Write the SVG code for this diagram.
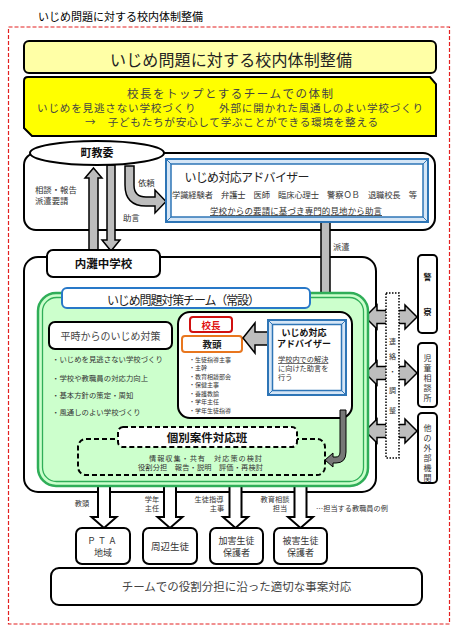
<svg xmlns="http://www.w3.org/2000/svg" width="463" height="641" viewBox="0 0 463 641">
<style>
text{font-family:"Noto Sans CJK JP","Noto Sans CJK SC",sans-serif;fill:#333;}
.c{text-anchor:middle}
.b{font-weight:bold;fill:#111}
.box{fill:#fff;stroke:#000;stroke-width:2}
.garrow{fill:#bdbdbd;stroke:#000;stroke-width:1.5;stroke-linejoin:miter}
.warrow{fill:#fff;stroke:#000;stroke-width:2;stroke-linejoin:miter}
.blue{stroke:#2e75b6;stroke-width:2}
.dash{stroke:#000;stroke-width:2;stroke-dasharray:5,3}
.s75{font-size:7.2px}
.s85{font-size:8.4px}
.vt{font-size:8px;text-anchor:middle}
</style>
<rect width="463" height="641" fill="#fff"/>
<text x="38" y="21" font-size="11" style="fill:#000">いじめ問題に対する校内体制整備</text>
<rect x="8.5" y="27" width="441" height="597" fill="none" stroke="#e32020" stroke-width="1.2" stroke-dasharray="4,2"/>

<g id="title">
<rect x="24" y="41" width="412" height="32" rx="5" fill="#ffffa6" stroke="#000" stroke-width="2"/>
<text x="231" y="66" class="c" font-size="16" textLength="242" style="fill:#222">いじめ問題に対する校内体制整備</text>
</g>
<g id="policy">
<path d="M28,77 H430 L436,84 V136 H32 L24,128 V81 Q24,77 28,77 Z" fill="#ffff00" stroke="#000" stroke-width="2"/>
<text x="230" y="98" class="c" font-size="11.5" textLength="206" style="fill:#444">校長をトップとするチームでの体制</text>
<text x="230" y="112" class="c" font-size="10.6" textLength="386" style="fill:#444">いじめを見逃さない学校づくり　　外部に開かれた風通しのよい学校づくり</text>
<text x="231.5" y="125.5" class="c" font-size="10.6" textLength="293" style="fill:#444">→　子どもたちが安心して学ぶことができる環境を整える</text>
</g>

<g id="board-frame">
<rect x="24" y="153" width="411" height="77" rx="12" class="box"/>
</g>
<g id="school-frame">
<rect x="24" y="257" width="352" height="235" rx="14" class="box"/>
</g>

<g id="connectors">
<polygon class="garrow" points="93.5,168 102,178 98,178 98,250 89,250 89,178 85,178"/>
<polygon class="garrow" points="107,165 115,165 115,240 120,240 111,251 102,240 107,240"/>
<path class="garrow" d="M125,166 H134 V185 Q134,197 146,197 H155 V190 L166,201.5 L155,213 V206 H146 Q125,206 125,185 Z"/>
<polygon class="garrow" points="321,222 330,222 330,298 337,298 325.5,312 314,298 321,298"/>
<polygon class="garrow" points="365,317 377,305 377,310.5 405,310.5 405,305 417,317 405,329 405,323.5 377,323.5 377,329"/>
<polygon class="garrow" points="365,373 377,361 377,366.5 405,366.5 405,361 417,373 405,385 405,379.5 377,379.5 377,385"/>
<polygon class="garrow" points="365,431 377,419 377,424.5 405,424.5 405,419 417,431 405,443 405,437.5 377,437.5 377,443"/>
<polygon class="warrow" points="98,475 110,475 110,517 116.5,517 104,528 91.5,517 98,517"/>
<polygon class="warrow" points="164,475 176,475 176,517 182.5,517 170,528 157.5,517 164,517"/>
<polygon class="warrow" points="229.5,475 241.5,475 241.5,517 248,517 235.5,528 223,517 229.5,517"/>
<polygon class="warrow" points="294.5,475 306.5,475 306.5,517 313,517 300.5,528 288,517 294.5,517"/>
<text x="35" y="193" class="s85">相談・報告</text>
<text x="35" y="204" class="s85">派遣要請</text>
<text x="138" y="185.5" class="s85">依頼</text>
<text x="123" y="221" class="s85">助言</text>
<text x="333" y="250" class="s85">派遣</text>
<text x="82" y="506" class="c s75">教頭</text>
<text x="152" y="502" class="c s75">学年</text>
<text x="152" y="511" class="c s75">主任</text>
<text x="209" y="502" class="c s75">生徒指導</text>
<text x="217" y="511" class="c s75">主事</text>
<text x="275" y="502" class="c s75">教育相談</text>
<text x="280" y="511" class="c s75">担当</text>
<text x="316" y="511" class="s75">…担当する教職員の例</text>
</g>

<g id="town-board">
<ellipse cx="97" cy="153" rx="67" ry="12" class="box"/>
<text x="97" y="157" class="c b" font-size="11">町教委</text>
</g>

<g id="adviser">
<rect x="166" y="159" width="262" height="63" fill="#d6e6f6" class="blue"/>
<rect x="171" y="164" width="252" height="53" fill="#fff" stroke="#2e75b6" stroke-width="1.5"/>
<path d="M166,159 L171,164 M428,159 L423,164 M166,222 L171,217 M428,222 L423,217" stroke="#2e75b6" stroke-width="1"/>
<text x="247" y="181.5" class="c" font-size="12" textLength="125" style="fill:#222">いじめ対応アドバイザー</text>
<text x="294.5" y="198" class="c" font-size="8.3" textLength="245">学識経験者　弁護士　医師　臨床心理士　警察ＯＢ　退職校長　等</text>
<text x="296" y="214" class="c" font-size="8.5" textLength="172" text-decoration="underline">学校からの要請に基づき専門的見地から助言</text>
</g>

<g id="school">
<rect x="47" y="250" width="113" height="27" rx="6" class="box"/>
<text x="103.5" y="268" class="c b" font-size="11.5">内灘中学校</text>
</g>

<g id="team">
<rect x="38" y="293" width="330" height="193" rx="18" fill="#ccffcc" stroke="#2fae58" stroke-width="2.5"/>
<rect x="42.5" y="297.5" width="321" height="184" rx="14" fill="none" stroke="#2fae58" stroke-width="1.3"/>
<rect x="62" y="288" width="248" height="20" rx="5" fill="#fff" stroke="#2878c8" stroke-width="2"/>
<text x="183.5" y="305" class="c" font-size="12" textLength="153" style="fill:#222">いじめ問題対策チーム（常設）</text>
</g>

<g id="daily">
<rect x="49" y="322" width="123" height="27" rx="6" class="box"/>
<text x="110.5" y="339.5" class="c" font-size="10" style="fill:#444">平時からのいじめ対策</text>
<text x="52" y="362" font-size="7.4">・いじめを見逃さない学校づくり</text>
<text x="52" y="381" font-size="7.4">・学校や教職員の対応力向上</text>
<text x="52" y="398" font-size="7.4">・基本方針の策定・周知</text>
<text x="52" y="415" font-size="7.4">・風通しのよい学校づくり</text>
</g>

<g id="staff">
<rect x="178" y="312" width="174" height="106" rx="12" class="box"/>
<rect x="190" y="317" width="42" height="15" rx="3" fill="#fff" stroke="#d01010" stroke-width="2"/>
<text x="211" y="328.5" class="c" font-size="9.5" font-weight="bold" style="fill:#e01010">校長</text>
<rect x="182" y="336" width="60" height="16" rx="3" fill="#fff" stroke="#e8761e" stroke-width="2"/>
<text x="212" y="347.5" class="c" font-size="9.5" font-weight="bold" style="fill:#222">教頭</text>
<text x="189" y="361.5" font-size="6">・生徒指導主事</text>
<text x="189" y="370" font-size="6">・主幹</text>
<text x="189" y="378.5" font-size="6">・教育相談部会</text>
<text x="189" y="387" font-size="6">・保健主事</text>
<text x="189" y="395.5" font-size="6">・養護教諭</text>
<text x="189" y="404" font-size="6">・学年主任</text>
<text x="189" y="412.5" font-size="6">・学年生徒指導</text>
<polygon class="garrow" points="243,338 255,323 255,332 268,332 268,345 255,345 255,353"/>
<path d="M340,410 H346 V452 Q346,463 336,463 H333 V467 L325,460 L333,453 V457 H336 Q340,457 340,452 Z" fill="#777" stroke="#000" stroke-width="1"/>
</g>

<g id="inner-adviser">
<rect x="268" y="320" width="78" height="75" fill="#d6e6f6" class="blue"/>
<rect x="272.5" y="324.5" width="69" height="66" fill="#fff" stroke="#2e75b6" stroke-width="1.5"/>
<path d="M268,320 L272.5,324.5 M346,320 L341.5,324.5 M268,395 L272.5,390.5 M346,395 L341.5,390.5" stroke="#2e75b6" stroke-width="1"/>
<text x="304" y="335.5" class="c b" font-size="9">いじめ対応</text>
<text x="304" y="347" class="c b" font-size="9">アドバイザー</text>
<text x="278" y="362" font-size="7.2" text-decoration="underline">学校内での解決</text>
<text x="278" y="371" font-size="7.2">に向けた助言を</text>
<text x="278" y="380" font-size="7.2">行う</text>
</g>

<g id="case-team">
<rect x="78" y="439" width="247" height="36" rx="8" fill="#ccffcc" class="dash"/>
<rect x="118" y="427" width="179" height="20" rx="5" fill="#fff" class="dash"/>
<text x="207" y="442" class="c b" font-size="11.5">個別案件対応班</text>
<text x="205.5" y="460.5" class="c" font-size="7.2" textLength="113">情報収集・共有　対応策の検討</text>
<text x="200.5" y="469.5" class="c" font-size="7.2" textLength="125">役割分担　報告・説明　評価・再検討</text>
</g>

<g id="liaison">
<rect x="386" y="293" width="13" height="165" fill="#fff" stroke="#000" stroke-width="1.5" stroke-dasharray="1.5,1.5"/>
<text x="392.5" y="343.5" class="c" font-size="7">連</text>
<text x="392.5" y="358.5" class="c" font-size="7">絡</text>
<text x="392.5" y="373.5" class="c" font-size="7">・</text>
<text x="392.5" y="392.5" class="c" font-size="7">調</text>
<text x="392.5" y="412.5" class="c" font-size="7">整</text>
</g>

<g id="police">
<rect x="418" y="255" width="19" height="78" rx="4" class="box"/>
<text x="427.5" y="280" class="vt b">警</text>
<text x="427.5" y="315" class="vt b">察</text>
</g>
<g id="child-center">
<rect x="418" y="343" width="19" height="64" rx="4" class="box"/>
<text x="427.5" y="361" class="vt">児</text>
<text x="427.5" y="371" class="vt">童</text>
<text x="427.5" y="381" class="vt">相</text>
<text x="427.5" y="391" class="vt">談</text>
<text x="427.5" y="401" class="vt">所</text>
</g>
<g id="other-agencies">
<rect x="418" y="413" width="19" height="70" rx="4" class="box"/>
<text x="427.5" y="431" class="vt">他</text>
<text x="427.5" y="441" class="vt">の</text>
<text x="427.5" y="451" class="vt">外</text>
<text x="427.5" y="461" class="vt">部</text>
<text x="427.5" y="471" class="vt">機</text>
<text x="427.5" y="480.5" class="vt">関</text>
</g>

<g id="pta">
<rect x="76" y="528" width="54" height="36" rx="6" class="box"/>
<text x="103" y="544" class="c" font-size="8.5" letter-spacing="2">ＰＴＡ</text>
<text x="103" y="556" class="c" font-size="9">地域</text>
</g>
<g id="peers">
<rect x="143" y="528" width="54" height="36" rx="6" class="box"/>
<text x="170" y="550" class="c" font-size="9.5">周辺生徒</text>
</g>
<g id="offender-parents">
<rect x="210" y="528" width="53" height="36" rx="6" class="box"/>
<text x="236.5" y="544" class="c" font-size="9">加害生徒</text>
<text x="236.5" y="556" class="c" font-size="9">保護者</text>
</g>
<g id="victim-parents">
<rect x="274" y="528" width="53" height="36" rx="6" class="box"/>
<text x="300.5" y="544" class="c" font-size="9">被害生徒</text>
<text x="300.5" y="556" class="c" font-size="9">保護者</text>
</g>
<g id="response">
<rect x="51" y="568" width="371" height="37" rx="8" class="box"/>
<text x="236.5" y="591" class="c" font-size="11.5" style="fill:#444">チームでの役割分担に沿った適切な事案対応</text>
</g>
</svg>
